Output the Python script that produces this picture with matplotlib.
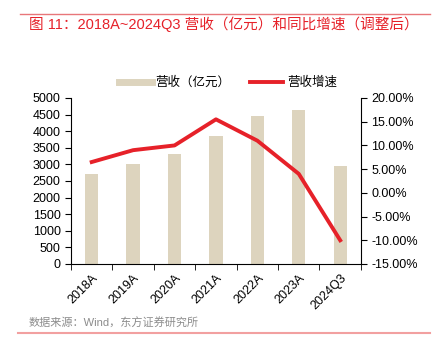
import matplotlib
matplotlib.use("Agg")
import matplotlib.pyplot as plt
import numpy as np
from matplotlib.ticker import FixedLocator, FuncFormatter
from matplotlib.lines import Line2D

plt.rcParams['font.family'] = ['Liberation Sans', 'Noto Sans CJK SC', 'DejaVu Sans']

categories = ["2018A", "2019A", "2020A", "2021A", "2022A", "2023A", "2024Q3"]
revenue = [2710, 3000, 3300, 3870, 4470, 4640, 2955]
growth = [6.5, 9.0, 10.0, 15.5, 11.0, 4.0, -10.0]

bar_color = "#DDD4BE"
line_color = "#E62129"

fig = plt.figure(figsize=(4.34, 3.52), dpi=100)
ax = fig.add_axes([0.1636, 0.25, 0.668, 0.4716])
x = np.arange(len(categories))
ax.bar(x, revenue, width=0.32, color=bar_color, label="营收（亿元）", zorder=2)
ax.set_ylim(0, 5000)
ax.set_yticks(np.arange(0, 5001, 500))
ax.set_xlim(-0.5, len(categories) - 0.5)
ax.set_xticks(x)
ax.set_xticklabels(categories, rotation=45, ha="right", rotation_mode="anchor", fontsize=9)
ax.tick_params(axis="x", which="major", length=0, pad=6)
ax.xaxis.set_minor_locator(FixedLocator(np.arange(-0.5, len(categories), 1)))
ax.tick_params(axis="x", which="minor", length=4, direction="out")
ax.tick_params(axis="y", labelsize=9, length=4, direction="out")
for s in ["top", "right"]:
    ax.spines[s].set_visible(False)

ax2 = ax.twinx()
ax2.plot(x, growth, color=line_color, linewidth=2.8, label="营收增速", zorder=3)
ax2.set_ylim(-15, 20)
ax2.set_yticks(np.arange(-15, 20.1, 5))
ax2.yaxis.set_major_formatter(FuncFormatter(lambda v, p: f"{v:.2f}%"))
ax2.tick_params(axis="y", labelsize=9, length=4, direction="out")
for s in ["top", "left", "bottom"]:
    ax2.spines[s].set_visible(False)

h1, l1 = ax.get_legend_handles_labels()
h2, l2 = ax2.get_legend_handles_labels()
h1 = [Line2D([0], [0], color=bar_color, linewidth=5)]
fig.legend(h1 + h2, l1 + l2, loc="center", bbox_to_anchor=(228 / 434, 0.765), ncol=2,
           frameon=False, fontsize=9, handlelength=2.6, handletextpad=0.3,
           columnspacing=1.6)

# header / footer
fig.add_artist(Line2D([20 / 434, 430 / 434], [1 - 14 / 352, 1 - 14 / 352], color="#E8767A", linewidth=1.0))
fig.text(29 / 434, 1 - 24.5 / 352, "图 11：2018A~2024Q3 营收（亿元）和同比增速（调整后）",
         color="#E62129", fontsize=10.5, va="center", ha="left")
fig.text(29 / 434, 1 - 323 / 352, "数据来源：Wind，东方证券研究所", color="#8C8C8C", fontsize=8,
         va="center", ha="left")
fig.add_artist(Line2D([18 / 434, 430 / 434], [1 - 332.5 / 352, 1 - 332.5 / 352], color="#F2A0A0", linewidth=1.5))

fig.savefig("out.png", dpi=100)
